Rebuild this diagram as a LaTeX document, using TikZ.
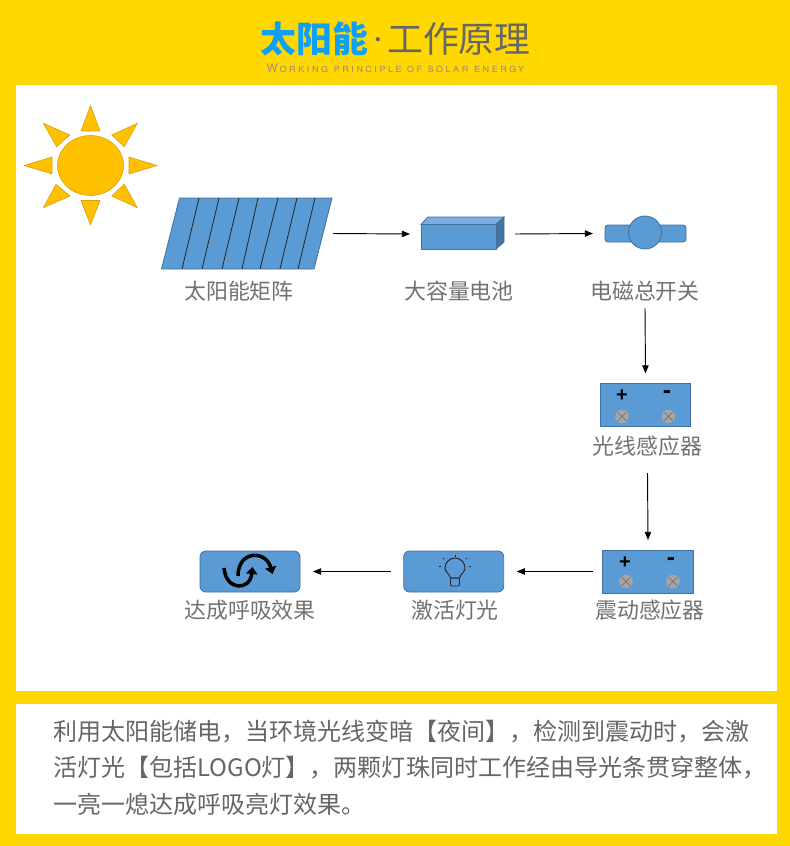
\documentclass[tikz,border=0pt]{standalone}
\usepackage{fontspec}
\setmainfont{Noto Sans CJK SC}
\newfontfamily\latinsub[LetterSpace=18]{TeX Gyre Heros}
\newfontfamily\signfont{Liberation Sans}
\usepackage{xcolor}
\usetikzlibrary{arrows.meta,positioning,shapes.geometric}

\definecolor{bgyellow}{HTML}{FFD800}
\definecolor{solarblue}{HTML}{5B9BD5}
\definecolor{solaredge}{HTML}{41719C}
\definecolor{sungold}{HTML}{FFC000}
\definecolor{sunedge}{HTML}{D6A20F}
\definecolor{titleblue}{HTML}{0FA0F5}
\definecolor{textgray}{HTML}{666666}
\definecolor{labelgray}{HTML}{757171}
\definecolor{subgray}{HTML}{A88C78}

\begin{document}
\begin{tikzpicture}[
  x=0.03cm,y=-0.03cm,
  label text/.style={font=\fontsize{18.7}{22}\selectfont,text=labelgray,minimum height=1.02cm,inner sep=0pt},
  body text/.style={font=\fontsize{20.5}{24}\selectfont,text=textgray,anchor=west,inner sep=0pt},
  flow/.style={draw=black,line width=0.8pt,-{Triangle[length=7pt,width=5.5pt]}},
  blue part/.style={draw=solaredge,fill=solarblue,line width=0.7pt},
  blue box/.style={blue part,inner sep=0pt,minimum width=3cm,minimum height=1.23cm,rounded corners=5pt,outer xsep=0.39cm},
  sensor/.style={blue part,inner sep=0pt,minimum width=2.72cm,minimum height=1.29cm,outer ysep=0.3cm,outer xsep=0.3cm},
  sign/.style={font=\signfont\bfseries\fontsize{17}{17}\selectfont,inner sep=0pt},
  minus sign/.style={font=\signfont\bfseries\fontsize{21}{21}\selectfont,inner sep=0pt},
  bolt/.style={circle,draw=gray!70,fill=black!35,line width=0.4pt,inner sep=0pt,minimum size=0.39cm,
    path picture={\draw[black!60,line width=0.5pt] (path picture bounding box.south west) -- (path picture bounding box.north east)
      (path picture bounding box.north west) -- (path picture bounding box.south east);}},
  ray/.style={fill=sungold,draw=sunedge,line width=0.5pt,line join=round},
  icon/.style={draw=black!85,line width=0.8pt}
]
% background and panels
\fill[bgyellow] (0,0) rectangle (790,846);
\fill[white] (16,85) rectangle (777,691);
\fill[white] (16,704) rectangle (777,834);

% title
\node[font=\fontsize{30.6}{36}\selectfont,text=textgray,inner sep=0pt] (title) at (395.5,39) {{\bfseries\color{titleblue}太阳能}\kern2pt\raisebox{6pt}{\fontsize{13}{13}\selectfont\bfseries ·}\kern1.5pt 工作原理};
\node[font=\latinsub\scshape\fontsize{10}{12}\selectfont,text=subgray,inner sep=0pt] (subtitle) at (395.5,68) {Working principle of solar energy};

% sun
\node[ellipse,fill=sungold,draw=sunedge,line width=0.5pt,minimum width=1.98cm,minimum height=1.8cm,inner sep=0pt] (sun) at (90.5,165.5) {};
\fill[ray] (90.5,105.5) -- (100,131) -- (81,131) -- cycle;
\fill[ray] (90.5,225) -- (100,200.5) -- (81,200.5) -- cycle;
\fill[ray] (24,165.5) -- (52,157) -- (52,174) -- cycle;
\fill[ray] (157,165.5) -- (129,157) -- (129,174) -- cycle;
\fill[ray] (43.3,123.3) -- (70,135) -- (56.7,146.7) -- cycle;
\fill[ray] (137.3,123.3) -- (111.7,135) -- (124.3,146.7) -- cycle;
\fill[ray] (43.3,207.7) -- (70,196) -- (56,184.3) -- cycle;
\fill[ray] (137.3,207.7) -- (111.7,196) -- (124.3,184.3) -- cycle;

% solar array
\node[minimum width=5.16cm,minimum height=2.16cm,inner sep=0pt,outer sep=0pt] (solar) at (247,233.5) {};
\filldraw[blue part] (179.5,198) -- (332,198) -- (314,269) -- (161.5,269) -- cycle;
\foreach \xa/\xb in {199/182,219/202,239/222,258/242,278/260,297/280,315/298}
  \draw[black!85,line width=0.7pt] (\xa,198) -- (\xb,269);
\node[label text] (solarlabel) at (239,291) {太阳能矩阵};

% battery
\node[minimum width=3.15cm,minimum height=0.99cm,inner sep=0pt,outer sep=0pt] (battery) at (462.5,234) {};
\filldraw[blue part,fill=solarblue!80!white] (421,224.5) -- (428,217) -- (504,217) -- (496,224.5) -- cycle;
\filldraw[blue part,fill=solaredge!90!solarblue] (496,224.5) -- (504,217) -- (504,242) -- (496,249) -- cycle;
\filldraw[blue part] (421,224.5) rectangle (496,249);
\node[label text] (batterylabel) at (459,291) {大容量电池};

% switch
\node[blue part,inner sep=0pt,minimum width=2.43cm,minimum height=0.51cm,rounded corners=2.5pt,outer xsep=0.36cm] (switch) at (645.5,233.5) {};
\node[blue part,circle,inner sep=0pt,minimum size=0.99cm] (switchknob) at (645,232.5) {};
\node[label text] (switchlabel) at (645,291) {电磁总开关};

% light sensor
\node[sensor] (lightsensor) at (645.5,405) {};
\node[sign] (lightplus) at (622,396) {+};
\node[minus sign] (lightminus) at (667,395) {-};
\node[bolt] (lightbolta) at (622,416.5) {};
\node[bolt] (lightboltb) at (668.5,416.5) {};
\node[label text,outer ysep=0.3cm] (lightlabel) at (647.5,446) {光线感应器};

% shock sensor
\node[sensor] (shocksensor) at (648,571.5) {};
\node[sign] (shockplus) at (625,563) {+};
\node[minus sign] (shockminus) at (671,562) {-};
\node[bolt] (shockbolta) at (626,581.5) {};
\node[bolt] (shockboltb) at (673,581.5) {};
\node[label text] (shocklabel) at (650,610) {震动感应器};

% lamp
\node[blue box] (lamp) at (453.7,571.5) {};
\draw[icon] (450.5,578) .. controls (449,573) and (445,572) .. (445,568) arc[start angle=180,end angle=360,radius=10] .. controls (465,572) and (461,573) .. (459.5,578) -- cycle;
\node[draw=black!85,line width=0.7pt,minimum width=0.27cm,minimum height=0.24cm,inner sep=0pt,rounded corners=1pt] (lampbase) at (455,582) {};
\foreach \xa/\ya/\xb/\yb in {455/555/455/556.5,443/558/444/559,467/558/466/559,439/566/441/566,471/566/469/566}
  \draw[icon] (\xa,\ya) -- (\xb,\yb);
\node[label text] (lamplabel) at (455,610) {激活灯光};

% breathing
\node[blue box] (breath) at (250,571.5) {};
\draw[black,line width=3pt,-{Triangle[length=6pt,width=9.5pt]}] (224,568) .. controls (226,591) and (250,591) .. (252.5,567);
\draw[black,line width=3pt,-{Triangle[length=6pt,width=9.5pt]}] (238,576) .. controls (238,550) and (266,550) .. (272.5,574);
\node[label text] (breathlabel) at (250,610) {达成呼吸效果};

% connectors
\draw[flow] (solar.east) -- (battery.west);
\draw[flow] (battery.east) -- (switch.west);
\draw[flow] (switchlabel.south) -- (lightsensor.north);
\draw[flow] (lightlabel.south) -- (shocksensor.north);
\draw[flow] (shocksensor.west) -- (lamp.east);
\draw[flow] (lamp.west) -- (breath.east);

% description
\node[body text] (linea) at (53,732) {利用太阳能储电，当环境光线变暗【夜间】，检测到震动时，会激};
\node[body text] (lineb) at (53,768) {活灯光【包括LOGO灯】，两颗灯珠同时工作经由导光条贯穿整体，};
\node[body text] (linec) at (53,804) {一亮一熄达成呼吸亮灯效果。};
\end{tikzpicture}
\end{document}
